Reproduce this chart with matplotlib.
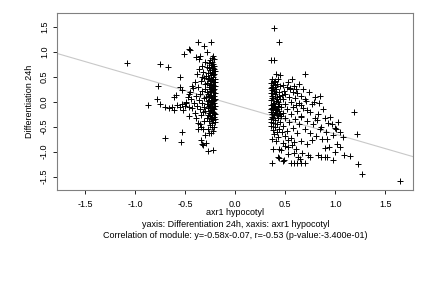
import numpy as np
import matplotlib as mlib
mlib.use('Agg')
import matplotlib.pyplot as plt

mlib.rcParams.update({'font.family': ['Liberation Sans', 'DejaVu Sans']})
mlib.rcParams.update({'font.size': 6.5})

# cluster on the left (negative axr1 values)
left_pts = np.array([
    (-1.08, 0.77), (-0.75, 0.75), (-0.67, 0.69), (-0.77, 0.31), (-0.55, 0.49),
    (-0.78, 0.05), (-0.87, -0.07), (-0.75, -0.05), (-0.70, -0.10), (-0.66, -0.12),
    (-0.61, -0.17), (-0.63, -0.10), (-0.58, -0.07), (-0.55, -0.11), (-0.52, -0.17),
    (-0.53, -0.05), (-0.49, -0.03), (-0.46, -0.10), (-0.61, 0.10), (-0.59, 0.13),
    (-0.53, 0.23), (-0.55, 0.30), (-0.51, 0.95), (-0.46, 1.05), (-0.45, 1.03),
    (-0.37, 1.19), (-0.31, 1.12), (-0.24, 1.19), (-0.28, 0.99), (-0.39, 0.89),
    (-0.35, 0.92), (-0.53, -0.60), (-0.70, -0.73), (-0.54, -0.81), (-0.34, -0.76),
    (-0.33, -0.85), (-0.32, -0.87), (-0.29, -0.83), (-0.27, -0.99), (-0.22, -0.96),
    (-0.46, -0.29), (-0.39, -0.33), (-0.37, -0.42), (-0.37, -0.54), (-0.34, -0.50),
    (-0.30, -0.66), (-0.26, -0.63), (-0.23, -0.50),
    (-0.33, 0.72), (-0.36, 0.65), (-0.32, 0.60), (-0.38, 0.55), (-0.31, 0.48),
    (-0.34, 0.42), (-0.40, 0.40), (-0.30, 0.35), (-0.37, 0.30), (-0.42, 0.28),
    (-0.33, 0.22), (-0.45, 0.20), (-0.35, 0.15), (-0.39, 0.12), (-0.31, 0.08),
    (-0.44, 0.05), (-0.36, 0.03), (-0.33, -0.02), (-0.41, -0.03), (-0.38, -0.08),
    (-0.31, -0.10), (-0.43, -0.12), (-0.35, -0.15), (-0.32, -0.20), (-0.40, -0.22),
    (-0.34, -0.26), (-0.31, -0.38), (-0.35, -0.45), (-0.32, -0.55), (-0.47, 0.10),
    (-0.49, 0.00), (-0.50, -0.08), (-0.46, 0.15), (-0.43, 0.32), (-0.36, 0.85),
    (-0.30, 0.80), (-0.33, 0.50),
    (-0.22, 0.92), (-0.21, 0.85), (-0.23, 0.80), (-0.26, 0.78), (-0.24, 0.74),
    (-0.21, 0.72), (-0.28, 0.70), (-0.22, 0.67), (-0.25, 0.64), (-0.20, 0.62),
    (-0.23, 0.60), (-0.27, 0.58), (-0.21, 0.56), (-0.24, 0.54), (-0.29, 0.52),
    (-0.22, 0.50), (-0.26, 0.48), (-0.20, 0.46), (-0.23, 0.44), (-0.25, 0.42),
    (-0.21, 0.40), (-0.28, 0.38), (-0.24, 0.36), (-0.22, 0.34), (-0.20, 0.32),
    (-0.26, 0.30), (-0.23, 0.28), (-0.21, 0.26), (-0.30, 0.25), (-0.25, 0.22),
    (-0.22, 0.20), (-0.20, 0.18), (-0.27, 0.16), (-0.24, 0.14), (-0.21, 0.12),
    (-0.29, 0.10), (-0.23, 0.08), (-0.20, 0.06), (-0.26, 0.04), (-0.22, 0.02),
    (-0.24, 0.00), (-0.21, -0.02), (-0.28, -0.04), (-0.25, -0.06), (-0.20, -0.08),
    (-0.23, -0.10), (-0.27, -0.12), (-0.21, -0.14), (-0.24, -0.16), (-0.30, -0.18),
    (-0.22, -0.20), (-0.26, -0.22), (-0.20, -0.24), (-0.23, -0.26), (-0.25, -0.28),
    (-0.21, -0.30), (-0.28, -0.32), (-0.24, -0.34), (-0.22, -0.36), (-0.26, -0.38),
    (-0.20, -0.40), (-0.23, -0.43), (-0.25, -0.46), (-0.21, -0.50), (-0.27, -0.55),
    (-0.22, -0.58), (-0.24, -0.62), (-0.25, 0.57), (-0.22, 0.53), (-0.27, 0.45),
    (-0.20, 0.39), (-0.25, 0.33), (-0.22, 0.24), (-0.28, 0.20), (-0.24, 0.10),
    (-0.21, 0.04), (-0.27, 0.01), (-0.23, -0.05), (-0.25, -0.19), (-0.21, -0.22),
    (-0.23, -0.31), (-0.27, -0.26), (-0.21, 0.66), (-0.26, 0.68), (-0.23, 0.70),
    (-0.22, 0.45), (-0.24, 0.26), (-0.26, 0.12), (-0.22, -0.12), (-0.26, -0.08),
    (-0.20, -0.35), (-0.22, 0.76), (-0.25, 0.84), (-0.23, 0.88),
])

# cluster on the right (positive axr1 values)
right_pts = np.array([
    (0.39, 1.47), (0.44, 1.19), (0.36, 0.83), (0.39, 0.83), (0.41, 0.55),
    (0.45, 0.53), (0.43, 0.46), (0.70, 0.55), (0.37, 0.29), (0.40, 0.29),
    (0.55, 0.28), (0.59, 0.31), (0.61, 0.26), (0.85, 0.11), (0.70, 0.05),
    (0.79, -0.01), (0.84, -0.03), (1.19, -0.21), (0.61, -0.06), (0.66, -0.06),
    (0.72, -0.16), (0.66, -0.30), (0.80, -0.33), (0.82, -0.37), (0.90, -0.33),
    (0.86, -0.50), (0.93, -0.43), (1.00, -0.52), (1.01, -0.55), (1.05, -0.60),
    (1.22, -0.65), (0.98, -0.67), (0.91, -0.61), (0.87, -0.74), (0.81, -0.69),
    (0.75, -0.62), (0.77, -0.77), (1.02, -0.85), (1.05, -0.90), (0.94, -0.90),
    (0.90, -0.93), (1.00, -1.00), (1.09, -1.07), (1.15, -1.08), (0.83, -1.07),
    (0.86, -1.10), (0.90, -1.10), (0.92, -1.11), (0.98, -1.17), (0.73, -1.07),
    (0.75, -1.10), (0.67, -1.03), (0.59, -1.03), (0.53, -1.05), (0.63, -1.11),
    (0.65, -1.15), (0.56, -1.22), (0.59, -1.23), (0.62, -1.22), (0.66, -1.22),
    (0.70, -1.22), (0.48, -1.19), (0.49, -1.17), (0.37, -1.23), (0.43, -1.10),
    (0.44, -1.13), (0.38, -0.95), (0.44, -0.95), (0.46, -0.97), (0.50, -0.89),
    (0.53, -0.77), (0.59, -0.80), (0.57, -0.87), (1.23, -1.25), (1.27, -1.44),
    (1.65, -1.59),
    (0.37, 0.45), (0.40, 0.42), (0.36, 0.38), (0.42, 0.36), (0.38, 0.33),
    (0.45, 0.31), (0.36, 0.28), (0.41, 0.26), (0.39, 0.22), (0.44, 0.20),
    (0.36, 0.18), (0.40, 0.15), (0.47, 0.14), (0.37, 0.12), (0.42, 0.10),
    (0.38, 0.07), (0.45, 0.05), (0.36, 0.03), (0.41, 0.01), (0.39, -0.02),
    (0.44, -0.04), (0.36, -0.06), (0.40, -0.08), (0.46, -0.10), (0.37, -0.12),
    (0.42, -0.14), (0.38, -0.17), (0.44, -0.19), (0.36, -0.21), (0.41, -0.23),
    (0.39, -0.26), (0.46, -0.28), (0.37, -0.30), (0.43, -0.32), (0.36, -0.35),
    (0.40, -0.37), (0.45, -0.40), (0.38, -0.42), (0.42, -0.45), (0.36, -0.48),
    (0.40, -0.51), (0.44, -0.54), (0.38, -0.57), (0.42, -0.61), (0.39, -0.65),
    (0.43, -0.70), (0.41, -0.78), (0.37, -0.74), (0.38, 0.30), (0.41, 0.19),
    (0.37, 0.08), (0.43, 0.00), (0.39, -0.10), (0.36, -0.15), (0.43, -0.08),
    (0.40, -0.20), (0.38, -0.33), (0.42, -0.27), (0.37, 0.23), (0.44, 0.12),
    (0.39, 0.40), (0.36, -0.40), (0.41, -0.16), (0.38, -0.05), (0.42, 0.05),
    (0.40, 0.34), (0.45, -0.24), (0.37, -0.25),
    (0.48, 0.33), (0.52, 0.30), (0.55, 0.25), (0.49, 0.22), (0.58, 0.20),
    (0.62, 0.18), (0.50, 0.15), (0.66, 0.12), (0.54, 0.10), (0.60, 0.08),
    (0.48, 0.05), (0.71, 0.02), (0.56, 0.00), (0.64, -0.03), (0.50, -0.05),
    (0.58, -0.10), (0.68, -0.12), (0.52, -0.15), (0.62, -0.18), (0.75, -0.20),
    (0.48, -0.22), (0.56, -0.25), (0.66, -0.28), (0.50, -0.32), (0.60, -0.35),
    (0.72, -0.38), (0.54, -0.40), (0.64, -0.45), (0.48, -0.48), (0.58, -0.52),
    (0.70, -0.55), (0.52, -0.58), (0.62, -0.62), (0.50, -0.68), (0.56, -0.72),
    (0.66, -0.78), (0.48, -0.82), (0.72, -0.85), (0.78, -0.45), (0.83, -0.25),
    (0.77, -0.05), (0.88, -0.15), (0.95, -0.30), (0.85, -0.55), (0.92, -0.75),
    (1.03, -0.40), (1.08, -0.70), (0.97, -0.45), (0.53, 0.40), (0.57, 0.45),
    (0.64, 0.35), (0.68, 0.25), (0.74, 0.20), (0.80, 0.10), (0.47, -0.60),
    (0.53, -0.90), (0.61, -0.95),
])

slope = -0.58
intercept = -0.07
x_ticks = [-1.5, -1.0, -0.5, 0.0, 0.5, 1.0, 1.5]
y_ticks = [-1.5, -1.0, -0.5, 0.0, 0.5, 1.0, 1.5]
x_title = "axr1 hypocotyl"
y_title = "Differentiation 24h"
caption1 = "yaxis: Differentiation 24h, xaxis: axr1 hypocotyl"
caption2 = "Correlation of module: y=-0.58x-0.07, r=-0.53 (p-value:-3.400e-01)"

fig = plt.figure(figsize=(4.32, 2.88), dpi=100)
ax = fig.add_axes([0.1327, 0.340, 0.824, 0.616])

pts = np.vstack([left_pts, right_pts])
ax.plot(pts[:, 0], pts[:, 1], '+', color='black', markersize=4, markeredgewidth=0.7)
ax.axline((0, intercept), slope=slope, color='#c8c8c8', lw=0.8, zorder=0)

ax.set_xlim(-1.78, 1.78)
ax.set_ylim(-1.77, 1.78)
ax.set_xticks(x_ticks)
ax.set_yticks(y_ticks)
ax.set_xticklabels(["%.1f" % v for v in x_ticks])
ax.set_yticklabels(["%.1f" % v for v in y_ticks], rotation=90, va='center')
ax.tick_params(length=3, width=0.6, color='black')
ax.tick_params(axis='x', pad=4)
ax.tick_params(axis='y', pad=3)
for sp in ax.spines.values():
    sp.set_color('#808080')
    sp.set_linewidth(0.8)

ax.set_ylabel(y_title, labelpad=4)
# x title and the two caption lines below the axes
fig.text(0.5447, 0.262, x_title, ha='center', va='center')
fig.text(0.5447, 0.219, caption1, ha='center', va='center')
fig.text(0.5447, 0.181, caption2, ha='center', va='center')

fig.savefig('out.png', dpi=100)
